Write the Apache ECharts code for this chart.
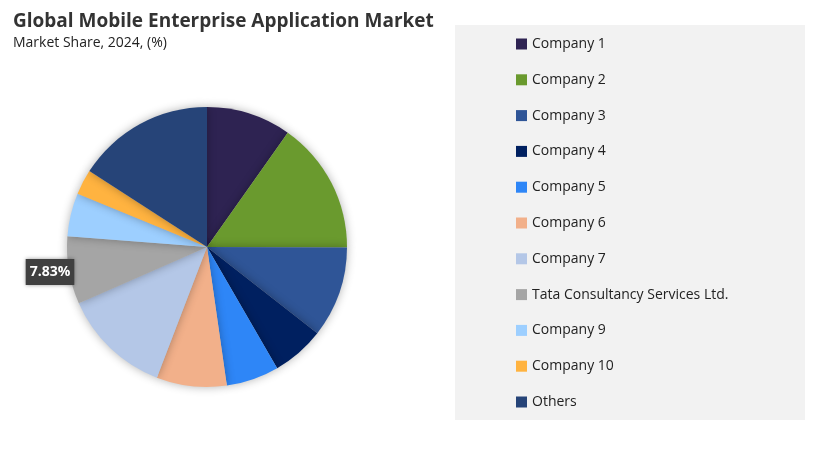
<!DOCTYPE html><html><head><meta charset="utf-8"><script src="https://cdn.jsdelivr.net/npm/echarts@6/dist/echarts.min.js"></script>
<style>body{margin:0}#c{width:817px;height:452px}</style></head><body><div id="c"></div><script>
const names=['Company 1','Company 2','Company 3','Company 4','Company 5','Company 6','Company 7','Tata Consultancy Services Ltd.','Company 9','Company 10','Others'];
const values=[9.8,15.3,10.5,6.1,6.1,8.1,12.6,7.83,5.0,2.9,15.9];
const colors=['#2e2352','#6a9a2e','#2f5597','#002060','#2e86f7','#f2b08a','#b4c7e7','#a5a5a5','#9dcfff','#ffb340','#264478'];
const ch=echarts.init(document.getElementById('c'));
ch.setOption({
 backgroundColor:'#fff',animation:false,
 title:{text:'Global Mobile Enterprise Application Market',subtext:'Market Share, 2024, (%)',left:8,top:7,itemGap:5,
  textStyle:{fontFamily:'Open Sans',fontSize:19,fontWeight:'bold',color:'#333'},
  subtextStyle:{fontFamily:'Open Sans',fontSize:14,color:'#222'}},
 graphic:[{type:'rect',shape:{x:455,y:25,width:350,height:395},style:{fill:'#f2f2f2'},z:-1}],
 legend:{orient:'vertical',left:511,top:32,itemWidth:11,itemHeight:11,itemGap:21.8,icon:'rect',
  textStyle:{fontFamily:'Open Sans',fontSize:14,color:'#222'},data:names},
 series:[{type:'pie',center:[207,247],radius:140,startAngle:90,clockwise:true,
  itemStyle:{shadowBlur:10,shadowColor:'rgba(0,0,0,0.3)'},
  label:{show:false},labelLine:{show:false},
  labelLayout:{x:50,y:272,align:'center',verticalAlign:'middle'},
  emphasis:{disabled:true},
  data:names.map((n,i)=>({name:n,value:values[i],itemStyle:{color:colors[i]},
   label:i===7?{show:true,position:'inside',formatter:'{c}%',backgroundColor:'#404040',color:'#fff',fontWeight:'bold',fontFamily:'Open Sans',fontSize:14,padding:[6,4],overflow:'none',shadowBlur:4,shadowColor:'rgba(0,0,0,0.4)'}:{show:false}}))
 }]
});
</script></body></html>
